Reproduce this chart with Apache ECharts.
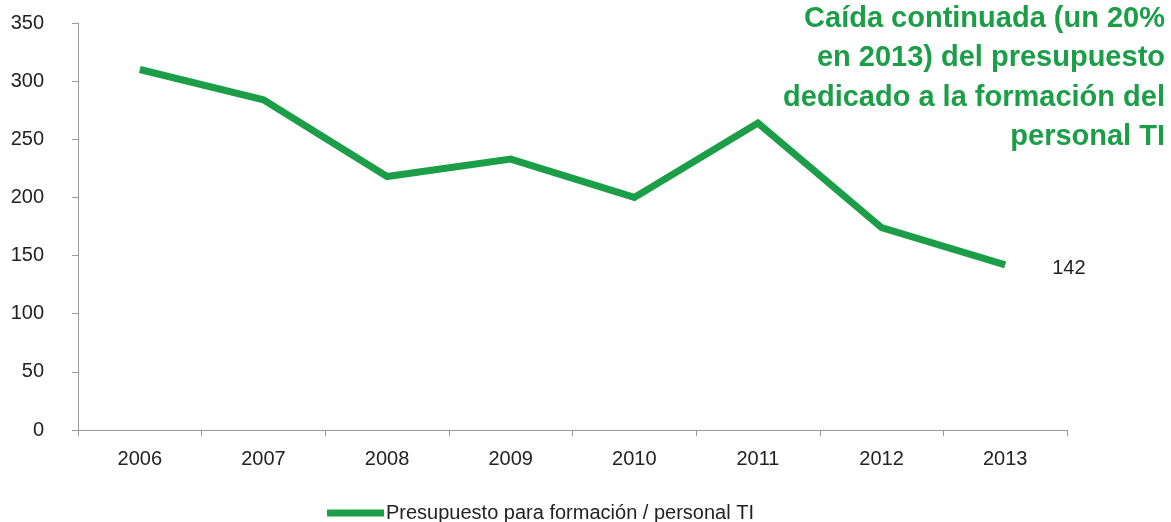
<!DOCTYPE html>
<html>
<head>
<meta charset="utf-8">
<script src="https://cdn.jsdelivr.net/npm/echarts@6/dist/echarts.min.js"></script>
<style>html,body{margin:0;padding:0;background:#fff}#c{width:1171px;height:522px}</style>
</head>
<body>
<div id="c"></div>
<script>
const categories = ['2006','2007','2008','2009','2010','2011','2012','2013'];
const values = [310, 284, 218, 233, 200, 264, 174, 142];
const seriesName = 'Presupuesto para formación / personal TI';
const titleText = 'Caída continuada (un 20%\nen 2013) del presupuesto\ndedicado a la formación del\npersonal TI';
const green = '#1c9e48';
const font = 'Liberation Sans, Arial, sans-serif';

const chart = echarts.init(document.getElementById('c'));
chart.setOption({
  animation: false,
  textStyle: { fontFamily: font },
  graphic: [{
    type: 'text', x: 1165, y: -1,
    style: { text: titleText, fill: green, fontSize: 29, fontWeight: 'bold', lineHeight: 39.5, fontFamily: font, textAlign: 'right', align: 'right' }
  }],
  legend: {
    bottom: -6, left: 322,
    itemWidth: 57, itemHeight: 7, itemGap: 4,
    icon: 'rect',
    textStyle: { fontSize: 20, color: '#222', fontFamily: font, padding: [0,0,0,-3] },
    data: [seriesName]
  },
  grid: { left: 78, right: 104, top: 23, bottom: 92, containLabel: false },
  xAxis: {
    type: 'category', data: categories, boundaryGap: true,
    axisLine: { lineStyle: { color: '#999', width: 1 } },
    axisTick: { show: true, length: 6, lineStyle: { color: '#999' } },
    axisLabel: { fontSize: 20, color: '#222', margin: 19, fontFamily: font }
  },
  yAxis: {
    type: 'value', min: 0, max: 350, interval: 50,
    axisLine: { show: true, lineStyle: { color: '#999', width: 1 } },
    axisTick: { show: true, length: 6, inside: false, lineStyle: { color: '#999' } },
    splitLine: { show: false },
    axisLabel: { fontSize: 20, color: '#222', margin: 34, fontFamily: font, padding: [6, 0, 0, 0] }
  },
  series: [{
    name: seriesName, type: 'line', data: values,
    symbol: 'none', showSymbol: false,
    lineStyle: { color: green, width: 7, cap: 'butt', join: 'miter' },
    itemStyle: { color: green },
    endLabel: { show: true, offset: [39, 4], fontSize: 20, color: '#222', fontFamily: font, formatter: p => p.value }
  }]
});
</script>
</body>
</html>
